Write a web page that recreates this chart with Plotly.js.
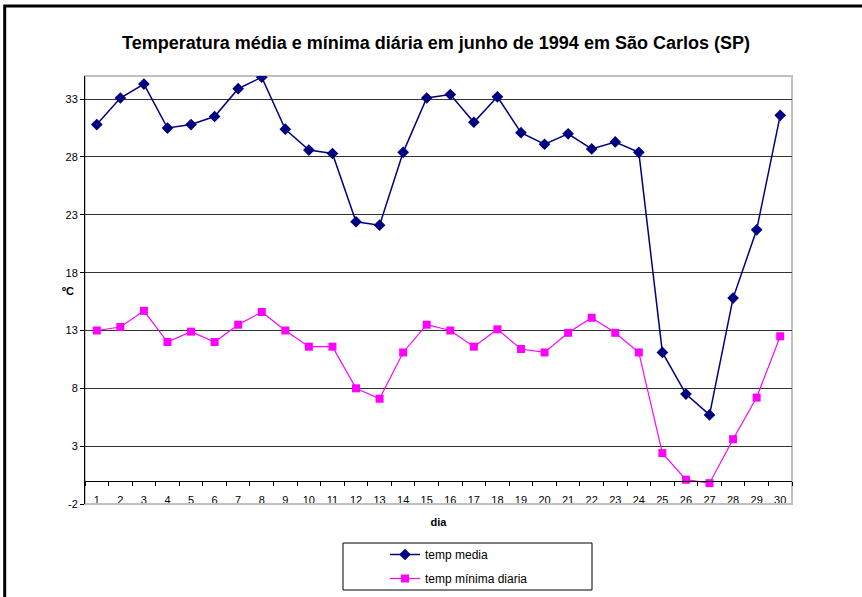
<!DOCTYPE html>
<html>
<head>
<meta charset="utf-8">
<script src="https://cdn.plot.ly/plotly-3.0.1.min.js"></script>
<style>html,body{margin:0;padding:0;background:#fff;}#chart{width:862px;height:597px;}</style>
</head>
<body>
<div id="chart"></div>
<script>
var dias = ['1','2','3','4','5','6','7','8','9','10','11','12','13','14','15','16','17','18','19','20','21','22','23','24','25','26','27','28','29','30'];
var tempMedia = [30.8, 33.1, 34.3, 30.5, 30.8, 31.5, 33.9, 34.9, 30.4, 28.6, 28.3, 22.4, 22.1, 28.4, 33.1, 33.4, 31.0, 33.2, 30.1, 29.1, 30.0, 28.7, 29.3, 28.4, 11.1, 7.5, 5.7, 15.8, 21.7, 31.6];
var tempMinima = [13.0, 13.3, 14.7, 12.0, 12.9, 12.0, 13.5, 14.6, 13.0, 11.6, 11.6, 8.0, 7.1, 11.1, 13.5, 13.0, 11.6, 13.1, 11.4, 11.1, 12.8, 14.1, 12.8, 11.1, 2.4, 0.1, -0.2, 3.6, 7.2, 12.5];
var yTicks = [-2, 3, 8, 13, 18, 23, 28, 33];

var FONT = 'Liberation Sans, Arial, sans-serif';

var traces = [
  {x: dias, y: tempMedia, name: 'temp media', type: 'scatter', mode: 'lines+markers',
   legendgroup: 'a',
   line: {color: '#000080', width: 1.5}, marker: {symbol: 'diamond', size: 9, color: '#000080'}},
  {x: dias, y: tempMinima, name: 'temp mínima diaria', type: 'scatter', mode: 'lines+markers',
   legendgroup: 'b',
   line: {color: '#FF00FF', width: 1.2}, marker: {symbol: 'square', size: 8, color: '#FF00FF'}}
];

var layout = {
  width: 862, height: 597,
  margin: {l: 85, r: 70, t: 76, b: 93, autoexpand: false},
  paper_bgcolor: '#ffffff', plot_bgcolor: '#ffffff',
  font: {family: FONT, size: 11, color: '#000'},
  showlegend: true,
  title: {text: 'Temperatura média e mínima diária em junho de 1994 em São Carlos (SP)',
          font: {family: FONT, size: 18, weight: 'bold', color: '#000'},
          xref: 'container', x: 0.5058, xanchor: 'center',
          yref: 'container', y: 1 - 43/597, yanchor: 'middle'},
  xaxis: {type: 'category', range: [-0.5, 29.5], anchor: 'free', position: 2/37,
          showline: true, linecolor: '#000', linewidth: 1, automargin: false,
          ticks: 'outside', tickson: 'boundaries', ticklen: 4, tickcolor: '#000',
          showgrid: false, zeroline: false, ticklabelstandoff: 9,
          tickfont: {family: FONT, size: 11, color: '#000'},
          title: {text: 'dia', font: {family: FONT, size: 11, weight: 'bold', color: '#000'}, standoff: 13}},
  yaxis: {range: [-2, 35], tickvals: yTicks, ticktext: yTicks.map(String),
          showline: true, linecolor: '#000', linewidth: 1, automargin: false,
          ticks: 'outside', ticklen: 4, tickcolor: '#000',
          showgrid: true, gridcolor: '#333', gridwidth: 1, zeroline: false,
          tickfont: {family: FONT, size: 11, color: '#000'}},
  legend: {x: (385-85)/707, xanchor: 'left', y: (504-540)/428, yanchor: 'top',
           bgcolor: 'rgba(0,0,0,0)', borderwidth: 0, tracegroupgap: 5,
           font: {family: FONT, size: 12, color: '#000'}},
  annotations: [
    {text: 'ºC', xref: 'paper', yref: 'paper', x: (68-85)/707, y: (504-291)/428,
     xanchor: 'center', yanchor: 'middle', showarrow: false,
     font: {family: FONT, size: 11, weight: 'bold', color: '#000'}}
  ],
  shapes: [
    {type: 'rect', xref: 'paper', yref: 'paper', x0: 0, x1: 1, y0: 0, y1: 1,
     line: {color: '#c0c0c0', width: 2}, layer: 'below'},
    {type: 'line', xref: 'paper', yref: 'paper', x0: 0, x1: 1, y0: 0, y1: 0,
     line: {color: '#c0c0c0', width: 2}, layer: 'above'},
    {type: 'rect', xref: 'paper', yref: 'paper', x0: (343-85)/707, x1: (592-85)/707,
     y0: (504-590)/428, y1: (504-543)/428, line: {color: '#000', width: 1}},
    {type: 'rect', xref: 'paper', yref: 'paper', x0: (4.7-85)/707, x1: 1.2,
     y0: -0.3, y1: (504-6)/428, line: {color: '#000', width: 3}}
  ]
};

Plotly.newPlot('chart', traces, layout, {displayModeBar: false, staticPlot: true});
</script>
</body>
</html>
